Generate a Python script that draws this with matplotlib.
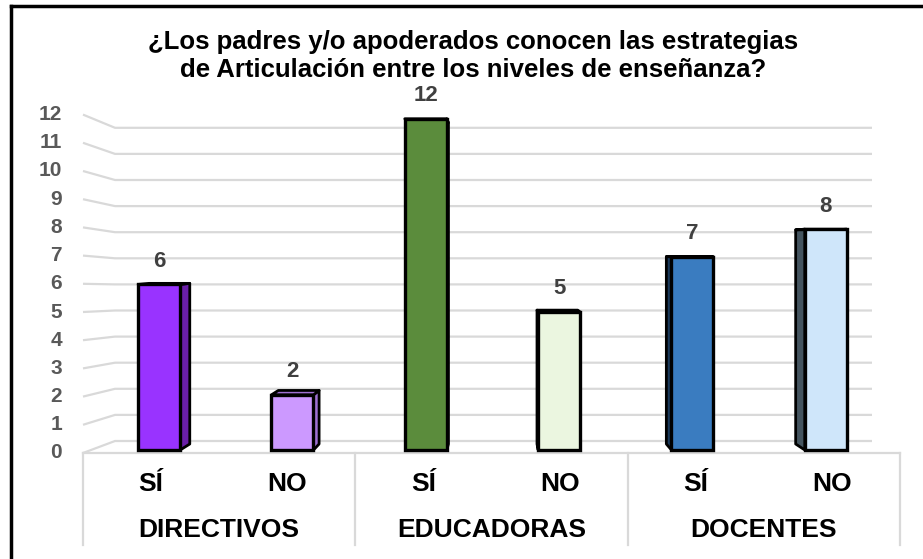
"""Bar chart: padres/apoderados y estrategias de articulación (pseudo-3D, Excel style)."""
import matplotlib
matplotlib.use("Agg")
import matplotlib.pyplot as plt
from matplotlib.patches import Polygon
from matplotlib.lines import Line2D

plt.rcParams["font.family"] = ["Liberation Sans", "DejaVu Sans"]

TITLE = "¿Los padres y/o apoderados conocen las estrategias\nde Articulación entre los niveles de enseñanza?"
groups = ["DIRECTIVOS", "EDUCADORAS", "DOCENTES"]
answers = ["SÍ", "NO", "SÍ", "NO", "SÍ", "NO"]
values = [6, 2, 12, 5, 7, 8]
yticks = list(range(0, 13))

face_colors = ["#9933FF", "#CC99FF", "#5B8C3C", "#EBF6E0", "#3A7CC0", "#CFE6FA"]
side_colors = ["#6A1FA8", "#9E70D2", "#3E6B27", "#C5DDB0", "#1B3A5C", "#44545F"]

# pixel layout of the bar plane (figure is 923x559 at 100 dpi)
W, H = 923, 559
PX_X0, SLOT = 92.5, 133.33       # bar plane: left edge / px per category
Y0, UNIT = 450.0, 27.6           # bar plane: baseline px / px per unit
FRONT_L, FRONT_R = 83.0, 900.0   # front floor edge
BACK_L, BACK_R = 115.0, 872.0    # back wall
FRONT_Y0, FRONT_U = 453.0, 28.2  # front plane scale (tick labels)
BACK_Y0, BACK_U = 441.0, 26.1    # back wall scale (gridlines)
VP = (500.0, 250.0)              # vanishing point for bar depth
DEPTH = 0.03
GRID = "#D9D9D9"


def dx(xp):
    return (xp - PX_X0) / SLOT - 0.5


def dy(yp):
    return (Y0 - yp) / UNIT


fig = plt.figure(figsize=(W / 100, H / 100), dpi=100)
ax = fig.add_axes([0, 0, 1, 1])
ax.set_xlim(dx(0), dx(W))
ax.set_ylim(dy(H), dy(0))
ax.axis("off")

# back wall gridlines with perspective stubs on the left
for v in yticks:
    yf = FRONT_Y0 - FRONT_U * v
    yb = BACK_Y0 - BACK_U * v
    ax.plot([dx(FRONT_L), dx(BACK_L), dx(BACK_R)], [dy(yf), dy(yb), dy(yb)],
            color=GRID, lw=1.6, zorder=1, solid_capstyle="butt")
    ax.text(dx(62), dy(yf), str(v), ha="right", va="center", fontsize=15,
            fontweight="bold", color="#595959")

# floor front edge and category box
ax.plot([dx(FRONT_L), dx(FRONT_R)], [dy(FRONT_Y0), dy(FRONT_Y0)], color=GRID, lw=1.6, zorder=1)
for k in range(len(groups) + 1):
    xs = FRONT_L + k * (FRONT_R - FRONT_L) / len(groups)
    ax.plot([dx(xs), dx(xs)], [dy(FRONT_Y0), dy(545)], color=GRID, lw=1.6, zorder=1)

# bars: side/top faces toward the vanishing point, then the front face
x = list(range(len(values)))
width = 42 / SLOT
vx, vy = dx(VP[0]), dy(VP[1])


def back(px_, py_):
    return (px_ + (vx - px_) * DEPTH, py_ + (vy - py_) * DEPTH)


for i, v in enumerate(values):
    edge = x[i] + width / 2 if x[i] < vx else x[i] - width / 2
    side = [(edge, 0), back(edge, 0), back(edge, v), (edge, v)]
    xl, xr = x[i] - width / 2, x[i] + width / 2
    top = [(xl, v), (xr, v), back(xr, v), back(xl, v)]
    for poly in (side, top):
        ax.add_patch(Polygon(poly, closed=True, facecolor=side_colors[i],
                             edgecolor="black", lw=2.0, joinstyle="round", zorder=2))
ax.bar(x, values, width=width, color=face_colors, edgecolor="black", linewidth=2.4, zorder=3)

for i, v in enumerate(values):
    ax.text(x[i], v + 23 / UNIT, str(v), ha="center", va="center", fontsize=16,
            fontweight="bold", color="#404040")

# category labels on the front plane
slot_f = (FRONT_R - FRONT_L) / len(answers)
for i, a in enumerate(answers):
    ax.text(dx(FRONT_L + (i + 0.5) * slot_f), dy(484), a, ha="center", va="center",
            fontsize=19, fontweight="bold", color="black")
for g, name in enumerate(groups):
    ax.text(dx(FRONT_L + (2 * g + 1) * slot_f), dy(530), name, ha="center", va="center",
            fontsize=19, fontweight="bold", color="black")

fig.text(473 / W, 1 - 56 / H, TITLE, ha="center", va="center", fontsize=18.5,
         fontweight="bold", color="black", linespacing=1.2)

# outer frame (only top and left edges fall inside the crop)
fig.add_artist(Line2D([11 / W, 11 / W], [0, 1 - 6 / H], color="black", lw=2.5))
fig.add_artist(Line2D([11 / W, 1], [1 - 6 / H, 1 - 6 / H], color="black", lw=2.5))

fig.savefig("out.png", dpi=100)
